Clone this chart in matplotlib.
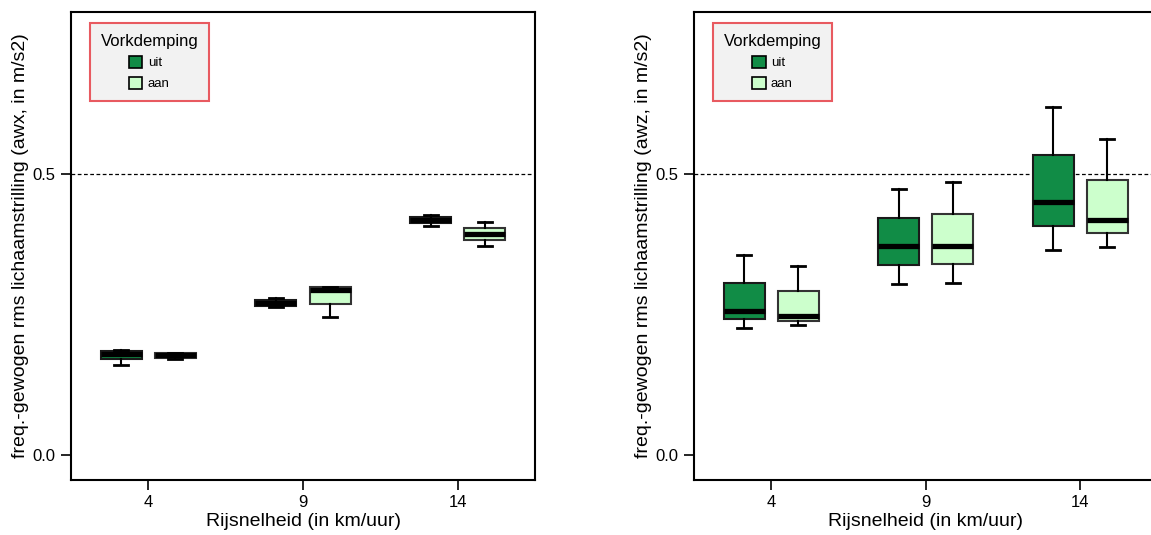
import matplotlib
matplotlib.use("Agg")
import matplotlib.pyplot as plt
from matplotlib.patches import Patch

plt.rcParams['font.family'] = ['Liberation Sans', 'DejaVu Sans']

# Gegevens
snelheden = ['4', '9', '14']
groepen = ['uit', 'aan']
kleuren = {'uit': '#118c46', 'aan': '#ccffcc'}

# awx: [min, Q1, mediaan, Q3, max] per snelheid
awx_uit = [[0.160, 0.171, 0.180, 0.185, 0.187],
           [0.263, 0.265, 0.270, 0.276, 0.279],
           [0.4075, 0.413, 0.418, 0.4235, 0.427]]
awx_aan = [[0.171, 0.173, 0.177, 0.181, 0.182],
           [0.246, 0.269, 0.294, 0.299, 0.299],
           [0.372, 0.3826, 0.393, 0.404, 0.4146]]

# awz
awz_uit = [[0.226, 0.242, 0.256, 0.306, 0.356],
           [0.304, 0.338, 0.372, 0.422, 0.473],
           [0.365, 0.4075, 0.450, 0.534, 0.619]]
awz_aan = [[0.231, 0.238, 0.247, 0.292, 0.336],
           [0.306, 0.340, 0.372, 0.429, 0.486],
           [0.370, 0.395, 0.418, 0.489, 0.562]]


def stats(rijen):
    return [dict(whislo=r[0], q1=r[1], med=r[2], q3=r[3], whishi=r[4], fliers=[])
            for r in rijen]


def teken(ax, uit, aan, ylabel):
    posities = [1, 2, 3]
    for data, groep, dx, rand in [(uit, 'uit', -0.175, '#1a1a1a'), (aan, 'aan', 0.175, '#333333')]:
        ax.bxp(stats(data), positions=[p + dx for p in posities], widths=0.265,
               patch_artist=True, showfliers=False, manage_ticks=False,
               capwidths=0.09,
               boxprops=dict(facecolor=kleuren[groep], edgecolor=rand, linewidth=1.5),
               medianprops=dict(color='black', linewidth=3.8, solid_capstyle='butt'),
               whiskerprops=dict(color='black', linewidth=1.5),
               capprops=dict(color='black', linewidth=2.0))
    ax.axhline(0.5, color='black', linestyle=(0, (3, 2)), linewidth=0.9, zorder=0)
    ax.set_xlim(0.5, 3.5)
    ax.set_ylim(-0.0445, 0.788)
    ax.set_xticks(posities)
    ax.set_xticklabels(snelheden)
    ax.set_yticks([0.0, 0.5])
    ax.set_yticklabels(['0.0', '0.5'])
    ax.tick_params(direction='out', length=7, width=1.2, labelsize=12, pad=4)
    for s in ax.spines.values():
        s.set_linewidth(1.5)
    ax.set_xlabel('Rijsnelheid (in km/uur)', fontsize=14, labelpad=2)
    ax.set_ylabel(ylabel, fontsize=14, labelpad=3)
    handles = [Patch(facecolor=kleuren[g], edgecolor='black', linewidth=1.2, label=g) for g in groepen]
    leg = ax.legend(handles=handles, title='Vorkdemping', loc='upper left',
                    bbox_to_anchor=(0.041, 0.976), borderaxespad=0,
                    fontsize=9.5, title_fontsize=12,
                    handlelength=1.0, handleheight=1.0, handletextpad=0.4,
                    labelspacing=0.55, borderpad=0.8, fancybox=False, framealpha=1)
    leg.get_frame().set_facecolor('#f2f2f2')
    leg.get_frame().set_edgecolor('#e85a60')
    leg.get_frame().set_linewidth(1.5)


fig = plt.figure(figsize=(11.51, 5.35), dpi=100)
ax1 = fig.add_axes([0.0617, 0.1028, 0.4031, 0.8748])
ax2 = fig.add_axes([0.603, 0.1028, 0.4027, 0.8748])

teken(ax1, awx_uit, awx_aan, 'freq.-gewogen rms lichaamstrilling (awx, in m/s2)')
teken(ax2, awz_uit, awz_aan, 'freq.-gewogen rms lichaamstrilling (awz, in m/s2)')

fig.savefig('out.png', dpi=100)
